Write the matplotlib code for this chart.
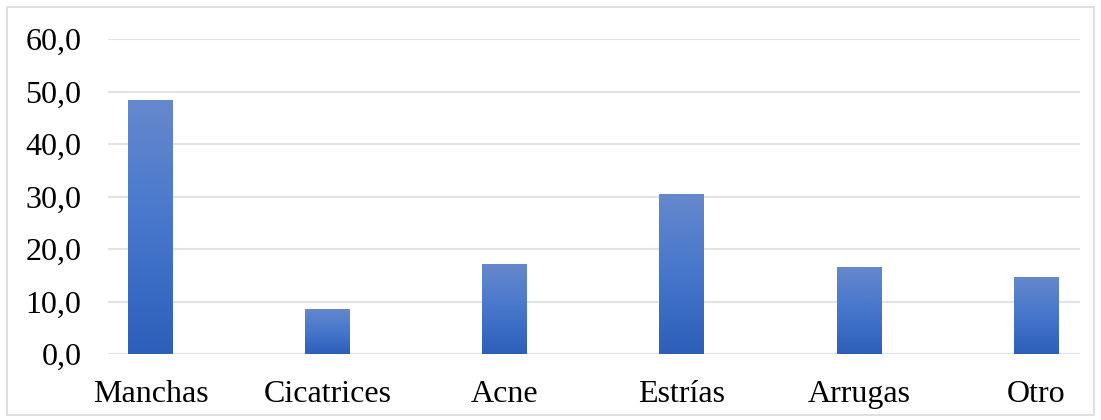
import numpy as np
import matplotlib.pyplot as plt
from matplotlib.colors import LinearSegmentedColormap
from matplotlib.patches import Rectangle

categories = ['Manchas', 'Cicatrices', 'Acne', 'Estrías', 'Arrugas', 'Otro']
values = [48.4, 8.6, 17.1, 30.5, 16.6, 14.7]
yticks = [0, 10, 20, 30, 40, 50, 60]

plt.rcParams['font.family'] = ['Liberation Serif', 'DejaVu Serif']

fig = plt.figure(figsize=(11.01, 4.2), dpi=100)
fig.patch.set_facecolor('white')
fig.patches.append(Rectangle((7 / 1101, 5 / 420), 1087 / 1101, 408 / 420,
                             transform=fig.transFigure, fill=False,
                             edgecolor='#d9d9d9', linewidth=1.2))

ax = fig.add_axes([0.098, 0.157, 0.883, 0.750])
x = np.arange(len(categories))
bars = ax.bar(x, values, width=0.254, color='#4472c4', zorder=2)

# vertical gradient on each bar
cmap = LinearSegmentedColormap.from_list('grad', ['#2d5fba', '#4677cc', '#6688cc'])
grad = np.linspace(0, 1, 256).reshape(-1, 1)
for b in bars:
    x0, y0 = b.get_x(), b.get_y()
    w, h = b.get_width(), b.get_height()
    im = ax.imshow(grad, cmap=cmap, aspect='auto', origin='lower',
                   extent=[x0, x0 + w, y0, y0 + h], zorder=3)
    im.set_clip_path(b)
    b.set_alpha(0)

ax.set_xlim(-0.243, 5.249)
ax.set_ylim(0, 60)
ax.set_yticks(yticks)
ax.set_yticklabels([f'{t:.1f}'.replace('.', ',') for t in yticks])
ax.set_xticks(x)
ax.set_xticklabels(categories)
ax.yaxis.grid(True, color='#e0e3e8', linewidth=1.5, zorder=0)
ax.set_axisbelow(True)
for s in ax.spines.values():
    s.set_visible(False)
ax.tick_params(axis='both', length=0, labelsize=23, colors='black')
ax.tick_params(axis='y', pad=19)
ax.tick_params(axis='x', pad=19)

plt.savefig('out.png', dpi=100)
